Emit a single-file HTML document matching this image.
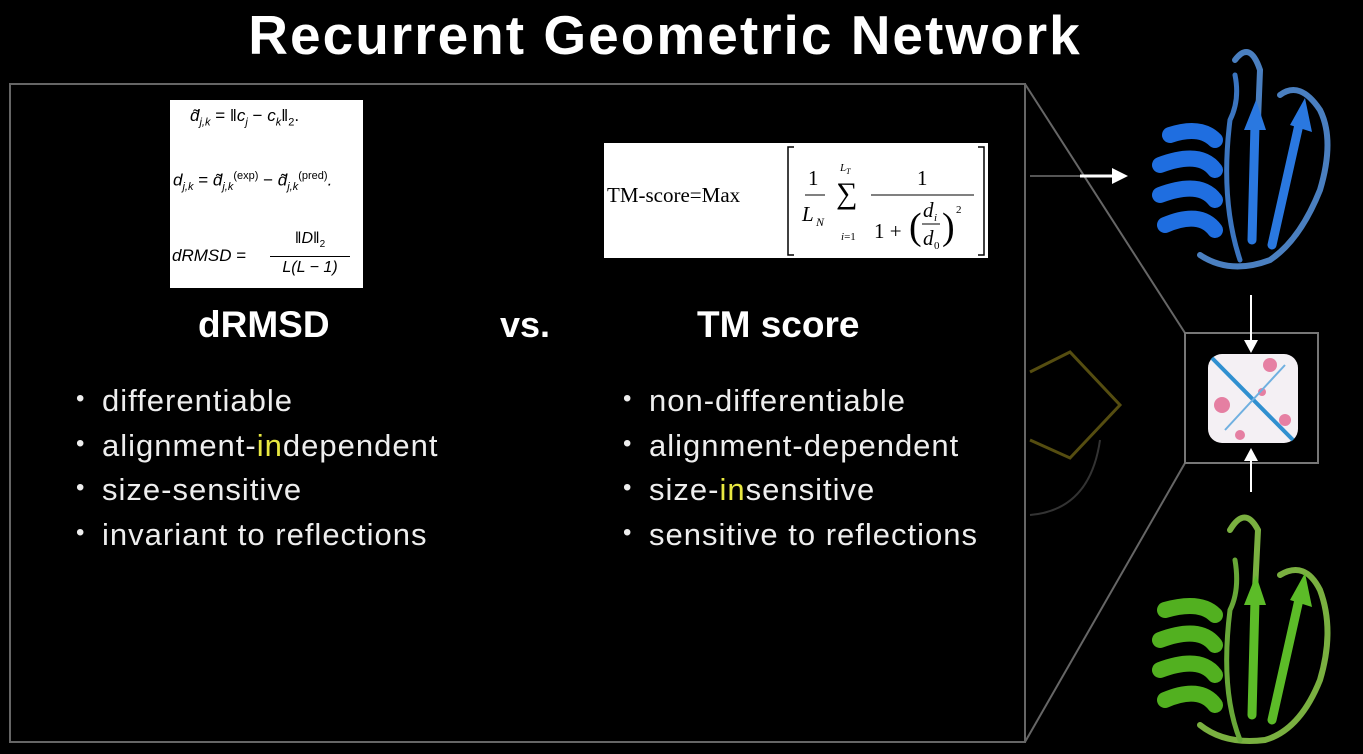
<!DOCTYPE html>
<html><head><meta charset="utf-8"><style>
body{margin:0;width:1363px;height:754px;background:#000;overflow:hidden;position:relative;font-family:"Liberation Sans",sans-serif;color:#fff}
.a{position:absolute}
.t{font-weight:bold;white-space:nowrap}
.li{position:absolute;font-size:31px;letter-spacing:1px;color:#eee;white-space:nowrap}
.li:before{content:"•";position:absolute;left:-26px;font-size:24px;top:2px}
.y{color:#e8e840}
.f{font-family:"Liberation Serif",serif;color:#000;font-style:italic;white-space:nowrap;position:absolute}
</style></head><body>
<div class="a t" style="left:0;width:1330px;top:3px;text-align:center;font-size:55px;letter-spacing:2px">Recurrent Geometric Network</div>
<svg class="a" style="left:0;top:0" width="1363" height="754">
<rect x="10" y="84" width="1015" height="658" fill="none" stroke="#666" stroke-width="2"/>
<line x1="1025" y1="84" x2="1185" y2="333" stroke="#666" stroke-width="2"/>
<line x1="1025" y1="742" x2="1185" y2="463" stroke="#666" stroke-width="2"/>
<rect x="1185" y="333" width="133" height="130" fill="none" stroke="#777" stroke-width="2"/>
<path d="M1030 372 L1070 352 L1120 405 L1070 458 L1030 440" fill="none" stroke="#554d10" stroke-width="3"/>
<path d="M1030 515 Q1090 510 1100 440" fill="none" stroke="#333" stroke-width="2"/>
<line x1="1030" y1="176" x2="1115" y2="176" stroke="#555" stroke-width="2"/>
<line x1="1080" y1="176" x2="1115" y2="176" stroke="#fff" stroke-width="3"/>
<polygon points="1112,168 1128,176 1112,184" fill="#fff"/>
<line x1="1251" y1="295" x2="1251" y2="346" stroke="#fff" stroke-width="2"/>
<polygon points="1244,340 1258,340 1251,353" fill="#fff"/>
<line x1="1251" y1="455" x2="1251" y2="492" stroke="#fff" stroke-width="2"/>
<polygon points="1244,461 1258,461 1251,448" fill="#fff"/>
<rect x="1208" y="354" width="90" height="89" rx="14" fill="#f4f0f4"/>
<g fill="#e05080" opacity=".7"><circle cx="1270" cy="365" r="7"/><circle cx="1222" cy="405" r="8"/><circle cx="1285" cy="420" r="6"/><circle cx="1240" cy="435" r="5"/><circle cx="1262" cy="392" r="4"/></g>
<line x1="1212" y1="358" x2="1293" y2="440" stroke="#3090d0" stroke-width="4"/>
<line x1="1285" y1="365" x2="1225" y2="430" stroke="#70b0e0" stroke-width="2"/>
<g fill="none" stroke-linecap="round">
<path d="M1235 60 Q1250 40 1260 70 L1258 120 M1280 95 Q1300 80 1320 110 Q1335 140 1320 190 Q1300 240 1270 260 Q1230 275 1200 255" stroke="#4a7fc0" stroke-width="6"/>
<path d="M1170 135 Q1200 125 1215 140 M1160 165 Q1200 150 1215 170 M1160 195 Q1200 180 1215 200 M1165 225 Q1200 210 1215 230" stroke="#1f6ee0" stroke-width="16"/>
<path d="M1252 240 L1255 125 M1272 245 L1300 120" stroke="#2a78e0" stroke-width="9"/>
<path d="M1235 75 Q1240 100 1230 120 Q1220 200 1240 260" stroke="#3b75c0" stroke-width="5"/>
</g>
<polygon points="1244,130 1256,100 1266,130" fill="#2a78e0"/><polygon points="1290,125 1305,98 1312,132" fill="#2a78e0"/>
<g fill="none" stroke-linecap="round">
<path d="M1230 530 Q1245 505 1258 530 L1255 590 M1280 575 Q1305 560 1320 590 Q1335 630 1320 680 Q1300 730 1265 740 Q1225 745 1200 725" stroke="#7ab040" stroke-width="6"/>
<path d="M1165 610 Q1200 600 1215 615 M1160 640 Q1200 625 1215 645 M1160 670 Q1200 655 1215 675 M1165 700 Q1200 685 1215 705" stroke="#52b020" stroke-width="16"/>
<path d="M1252 715 L1255 600 M1272 720 L1300 595" stroke="#5cbc28" stroke-width="9"/>
<path d="M1235 560 Q1240 590 1230 610 Q1220 690 1240 740" stroke="#68a838" stroke-width="5"/>
</g>
<polygon points="1244,605 1256,575 1266,605" fill="#5cbc28"/><polygon points="1290,600 1305,573 1312,607" fill="#5cbc28"/>
</svg>
<div class="a" style="left:170px;top:100px;width:193px;height:188px;background:#fff"></div>
<div class="f" style="left:190px;top:106px;font-size:17px;font-family:'Liberation Sans',sans-serif">d̃<sub style="font-size:11px">j,k</sub><span style="font-style:normal"> = ‖</span>c<sub style="font-size:11px">j</sub><span style="font-style:normal"> − </span>c<sub style="font-size:11px">k</sub><span style="font-style:normal">‖<sub style="font-size:11px">2</sub>.</span></div>
<div class="f" style="left:173px;top:170px;font-size:17px;font-family:'Liberation Sans',sans-serif">d<sub style="font-size:11px">j,k</sub><span style="font-style:normal"> = </span>d̃<sub style="font-size:11px">j,k</sub><sup style="font-size:11px;font-style:normal">(exp)</sup><span style="font-style:normal"> − </span>d̃<sub style="font-size:11px">j,k</sub><sup style="font-size:11px;font-style:normal">(pred)</sup>.</div>
<div class="f" style="left:172px;top:246px;font-size:17px;font-family:'Liberation Sans',sans-serif">dRMSD<span style="font-style:normal"> =</span></div>
<div class="f" style="left:270px;top:228px;font-size:16px;font-family:'Liberation Sans',sans-serif;text-align:center;width:80px;line-height:22px"><span style="font-style:normal">‖</span>D<span style="font-style:normal">‖<sub style="font-size:10px">2</sub></span><div style="border-top:1px solid #000"></div>L(L − 1)</div>
<div class="a" style="left:604px;top:143px;width:384px;height:115px;background:#fff"></div>
<div class="f" style="left:607px;top:183px;font-size:21px;font-style:normal">TM-score=Max</div>
<svg class="a" style="left:604px;top:143px" width="384" height="115">
<path d="M190 4 h-6 v108 h6 M374 4 h6 v108 h-6" fill="none" stroke="#000" stroke-width="1.5"/>
<line x1="201" y1="52" x2="221" y2="52" stroke="#000"/>
<line x1="267" y1="52" x2="370" y2="52" stroke="#000"/>
<line x1="318" y1="81" x2="336" y2="81" stroke="#000"/>
<g font-family="Liberation Serif" font-size="21" fill="#000">
<text x="204" y="42">1</text><text x="198" y="78" font-style="italic">L</text><text x="212" y="83" font-size="12" font-style="italic">N</text>
<text x="232" y="60" font-size="30">∑</text><text x="236" y="28" font-size="11" font-style="italic">L</text><text x="242" y="31" font-size="8" font-style="italic">T</text>
<text x="237" y="97" font-size="11"><tspan font-style="italic">i</tspan>=1</text>
<text x="313" y="42">1</text><text x="270" y="95">1 +</text><text x="305" y="96" font-size="38">(</text><text x="338" y="96" font-size="38">)</text>
<text x="319" y="74" font-style="italic">d</text><text x="330" y="78" font-size="11" font-style="italic">i</text>
<text x="319" y="102" font-style="italic">d</text><text x="330" y="106" font-size="11">0</text><text x="352" y="70" font-size="11">2</text>
</g></svg>
<div class="a t" style="left:198px;top:304px;font-size:37px">dRMSD</div>
<div class="a t" style="left:500px;top:304px;font-size:36px">vs.</div>
<div class="a t" style="left:697px;top:304px;font-size:37px">TM score</div>
<div class="li" style="left:102px;top:383px">differentiable</div>
<div class="li" style="left:102px;top:428px">alignment-<span class="y">in</span>dependent</div>
<div class="li" style="left:102px;top:472px">size-sensitive</div>
<div class="li" style="left:102px;top:517px">invariant to reflections</div>
<div class="li" style="left:649px;top:383px">non-differentiable</div>
<div class="li" style="left:649px;top:428px">alignment-dependent</div>
<div class="li" style="left:649px;top:472px">size-<span class="y">in</span>sensitive</div>
<div class="li" style="left:649px;top:517px">sensitive to reflections</div>
</body></html>
